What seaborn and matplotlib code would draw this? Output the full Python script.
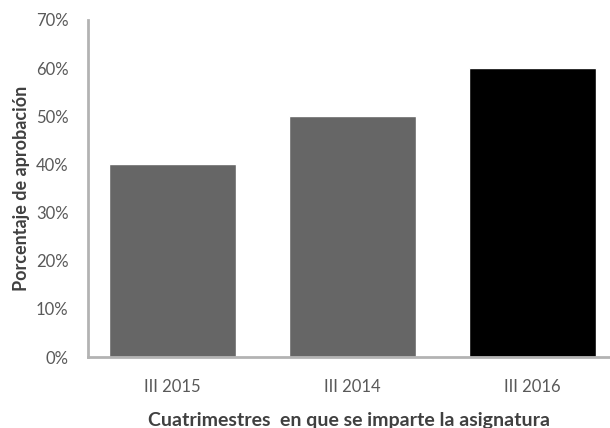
import matplotlib
matplotlib.use("Agg")
import matplotlib.pyplot as plt
import seaborn as sns
import pandas as pd
from matplotlib.ticker import PercentFormatter

cuatrimestres = ["III 2015", "III 2014", "III 2016"]
aprobacion = [40, 50, 60]
colores = ["#666666", "#666666", "#000000"]

sns.set_style("white")
plt.rcParams["font.family"] = ["Lato", "DejaVu Sans"]

df = pd.DataFrame({"cuatri": cuatrimestres, "pct": aprobacion})

fig = plt.figure(figsize=(6.10, 4.28), dpi=100)
ax = fig.add_axes([88 / 610, 1 - 357 / 428, 522 / 610, 337 / 428])

sns.barplot(data=df, x="cuatri", y="pct", hue="cuatri", palette=colores,
            width=0.71, legend=False, saturation=1, ax=ax)

ax.set_xlim(-0.47, 2.43)
ax.set_ylim(0, 70)
ax.set_yticks(range(0, 71, 10))
ax.yaxis.set_major_formatter(PercentFormatter(decimals=0))
ax.tick_params(axis="both", length=0, labelsize=12, labelcolor="#595959")
ax.tick_params(axis="x", pad=16)
ax.tick_params(axis="y", pad=14)

for side in ["top", "right"]:
    ax.spines[side].set_visible(False)
for side in ["left", "bottom"]:
    ax.spines[side].set_color("#b3b3b3")
    ax.spines[side].set_linewidth(2)

ax.set_xlabel("Cuatrimestres  en que se imparte la asignatura", fontsize=14,
              fontweight="bold", color="#404040", labelpad=12)
ax.set_ylabel("Porcentaje de aprobación", fontsize=13, fontweight="bold",
              color="#404040", labelpad=4)

fig.savefig("out.png", dpi=100)
